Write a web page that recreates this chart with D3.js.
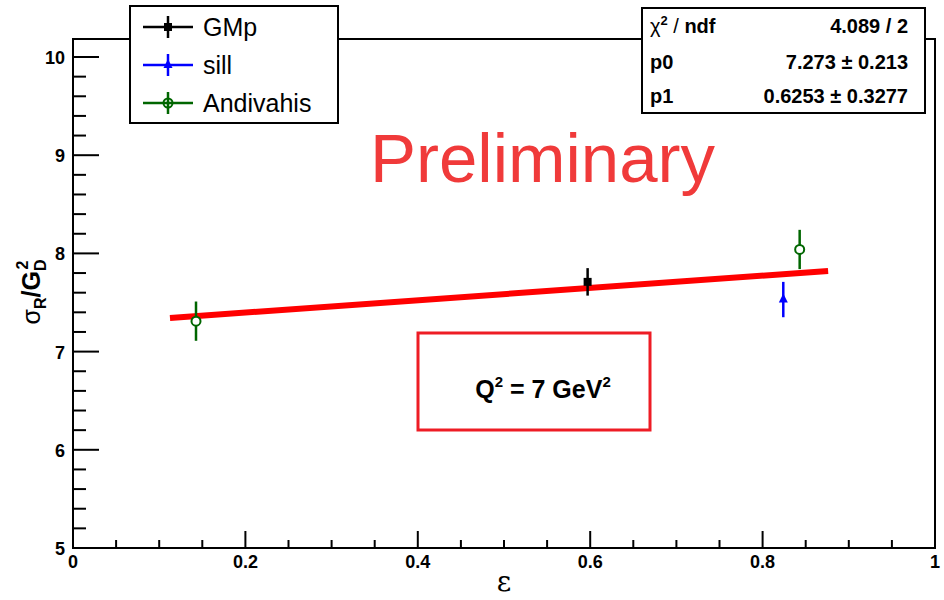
<!DOCTYPE html>
<meta charset="utf-8">
<style>
body { margin: 0; background: #fff; }
svg { font-family: "Liberation Sans", Arial, sans-serif; }
.axis text { font-weight: bold; font-size: 18px; }
</style>
<body>
<script src="https://d3js.org/d3.v7.min.js"></script>
<script>

// data
var gmp = [{e: 0.597, v: 7.71, err: 0.14}];
var sill = [{e: 0.824, v: 7.53, err: 0.18}];
var andivahis = [{e: 0.1427, v: 7.31, err: 0.2}, {e: 0.843, v: 8.04, err: 0.2}];
var fitP0 = 7.273, fitP1 = 0.6253;
var fitRange = [0.1125, 0.876];
var xTicks = [0, 0.2, 0.4, 0.6, 0.8, 1];
var yTicks = [5, 6, 7, 8, 9, 10];
var legendNames = ["GMp", "sill", "Andivahis"];
var legendColors = ["#000", "#0000ff", "#006600"];
var statRows = [["χ", "4.089 / 2"], ["p0", "7.273 ± 0.213"], ["p1", "0.6253 ± 0.3277"]];

var W = 944, H = 600;
var fLeft = 73, fRight = 935, fTop = 39, fBottom = 548;

var x = d3.scaleLinear().domain([0, 1]).range([fLeft, fRight]);
var y = d3.scaleLinear().domain([5, 10]).range([fBottom, 57]);

var svg = d3.select("body").append("svg")
  .attr("width", W).attr("height", H);

// frame
svg.append("rect")
  .attr("x", fLeft).attr("y", fTop)
  .attr("width", fRight - fLeft).attr("height", fBottom - fTop)
  .attr("fill", "none").attr("stroke", "#000").attr("stroke-width", 2);

// y ticks (major + minor)
var yMinor = d3.range(5, 10.01, 0.2);
svg.append("g").selectAll("line").data(yMinor).enter().append("line")
  .attr("x1", fLeft).attr("x2", function(d) { return fLeft + (Math.abs(d - Math.round(d)) < 1e-6 ? 26 : 13); })
  .attr("y1", function(d) { return y(d); }).attr("y2", function(d) { return y(d); })
  .attr("stroke", "#000").attr("stroke-width", 2);

var yAxisG = svg.append("g").attr("class", "axis");
yAxisG.selectAll("text").data(yTicks).enter().append("text")
  .attr("x", fLeft - 8).attr("y", function(d) { return y(d) + 7; })
  .attr("text-anchor", "end")
  .text(function(d) { return d; });

// x ticks
var xMinor = d3.range(0, 1.001, 0.05);
svg.append("g").selectAll("line").data(xMinor).enter().append("line")
  .attr("x1", function(d) { return x(d); }).attr("x2", function(d) { return x(d); })
  .attr("y1", fBottom)
  .attr("y2", function(d) { return fBottom - (Math.abs(d * 5 - Math.round(d * 5)) < 1e-6 ? 17 : 8); })
  .attr("stroke", "#000").attr("stroke-width", 2);

var xAxisG = svg.append("g").attr("class", "axis");
xAxisG.selectAll("text").data(xTicks).enter().append("text")
  .attr("x", function(d) { return x(d); }).attr("y", fBottom + 20)
  .attr("text-anchor", "middle")
  .text(function(d) { return d; });

// axis titles
svg.append("text")
  .attr("x", x(0.5)).attr("y", 591)
  .attr("text-anchor", "middle")
  .attr("font-family", "DejaVu Serif, serif")
  .attr("font-size", 28)
  .text("ε");

var yt = svg.append("text")
  .attr("transform", "translate(40,292) rotate(-90)")
  .attr("text-anchor", "middle")
  .attr("font-size", 25).attr("font-weight", "bold");
yt.append("tspan").attr("font-weight", "normal").text("σ");
yt.append("tspan").attr("font-size", 16).attr("dy", 6).text("R");
yt.append("tspan").attr("dy", -6).text("/G");
yt.append("tspan").attr("font-size", 16).attr("dy", 6).text("D");
yt.append("tspan").attr("font-size", 16).attr("dx", -10).attr("dy", -18).text("2");

// "Preliminary"
svg.append("text")
  .attr("x", 370).attr("y", 182)
  .attr("font-size", 69)
  .attr("fill", "#f03a3a")
  .text("Preliminary");

// Q^2 box
svg.append("rect")
  .attr("x", 418).attr("y", 333).attr("width", 232).attr("height", 97)
  .attr("fill", "none").attr("stroke", "#ee1c25").attr("stroke-width", 3);
var qt = svg.append("text")
  .attr("x", 543).attr("y", 398)
  .attr("text-anchor", "middle")
  .attr("font-size", 25).attr("font-weight", "bold");
qt.append("tspan").text("Q");
qt.append("tspan").attr("font-size", 15).attr("dy", -11).text("2");
qt.append("tspan").attr("dy", 11).text(" = 7 GeV");
qt.append("tspan").attr("font-size", 15).attr("dy", -11).text("2");

// fit line
svg.append("line")
  .attr("x1", x(fitRange[0])).attr("y1", y(fitP0 + fitP1 * fitRange[0]))
  .attr("x2", x(fitRange[1])).attr("y2", y(fitP0 + fitP1 * fitRange[1]))
  .attr("stroke", "#ff0000").attr("stroke-width", 6);

// error bars and markers
function errBars(data, color) {
  svg.append("g").selectAll("line").data(data).enter().append("line")
    .attr("x1", function(d) { return x(d.e); }).attr("x2", function(d) { return x(d.e); })
    .attr("y1", function(d) { return y(d.v - d.err); })
    .attr("y2", function(d) { return y(d.v + d.err); })
    .attr("stroke", color).attr("stroke-width", 2.5);
}
errBars(gmp, "#000");
errBars(sill, "#0000ff");
errBars(andivahis, "#006600");

svg.append("g").selectAll("rect").data(gmp).enter().append("rect")
  .attr("x", function(d) { return x(d.e) - 4; }).attr("y", function(d) { return y(d.v) - 4; })
  .attr("width", 8).attr("height", 8).attr("fill", "#000");

svg.append("g").selectAll("path").data(sill).enter().append("path")
  .attr("transform", function(d) { return "translate(" + x(d.e) + "," + y(d.v) + ")"; })
  .attr("d", "M0,-6L4.5,3L-4.5,3Z").attr("fill", "#0000ff");

svg.append("g").selectAll("circle").data(andivahis).enter().append("circle")
  .attr("cx", function(d) { return x(d.e); }).attr("cy", function(d) { return y(d.v); })
  .attr("r", 4.5).attr("fill", "#fff").attr("stroke", "#006600").attr("stroke-width", 2);

// legend
var leg = svg.append("g");
leg.append("rect")
  .attr("x", 130).attr("y", 6).attr("width", 208).attr("height", 117)
  .attr("fill", "#fff").attr("stroke", "#000").attr("stroke-width", 2);
var rowY = [27, 65, 103];
legendNames.forEach(function(name, i) {
  var c = legendColors[i], cy = rowY[i];
  leg.append("line").attr("x1", 143).attr("x2", 193).attr("y1", cy).attr("y2", cy)
    .attr("stroke", c).attr("stroke-width", 2.5);
  leg.append("line").attr("x1", 168).attr("x2", 168).attr("y1", cy - 11).attr("y2", cy + 11)
    .attr("stroke", c).attr("stroke-width", 2.5);
  if (i === 0) {
    leg.append("rect").attr("x", 164).attr("y", cy - 4).attr("width", 8).attr("height", 8).attr("fill", c);
  } else if (i === 1) {
    leg.append("path").attr("transform", "translate(168," + cy + ")")
      .attr("d", "M0,-6L4.5,3L-4.5,3Z").attr("fill", c);
  } else {
    leg.append("circle").attr("cx", 168).attr("cy", cy).attr("r", 4.5)
      .attr("fill", "none").attr("stroke", c).attr("stroke-width", 2);
  }
  leg.append("text").attr("x", 203).attr("y", cy + 9)
    .attr("font-size", 25).text(name);
});

// stats box
var st = svg.append("g");
st.append("rect")
  .attr("x", 642).attr("y", 8).attr("width", 283).attr("height", 105)
  .attr("fill", "#fff").attr("stroke", "#000").attr("stroke-width", 2);
var statY = [33, 69, 103];
statRows.forEach(function(r, i) {
  var lab = st.append("text").attr("x", 650).attr("y", statY[i])
    .attr("font-size", 20).attr("font-weight", "bold");
  if (i === 0) {
    lab.append("tspan").attr("font-weight", "normal").text(r[0]);
    lab.append("tspan").attr("font-size", 13).attr("dy", -8).text("2");
    lab.append("tspan").attr("dy", 8).attr("font-weight", "normal").text(" / ");
    lab.append("tspan").text("ndf");
  } else {
    lab.text(r[0]);
  }
  st.append("text").attr("x", 908).attr("y", statY[i])
    .attr("text-anchor", "end")
    .attr("font-size", 20).attr("font-weight", "bold").text(r[1]);
});

</script>
</body>
